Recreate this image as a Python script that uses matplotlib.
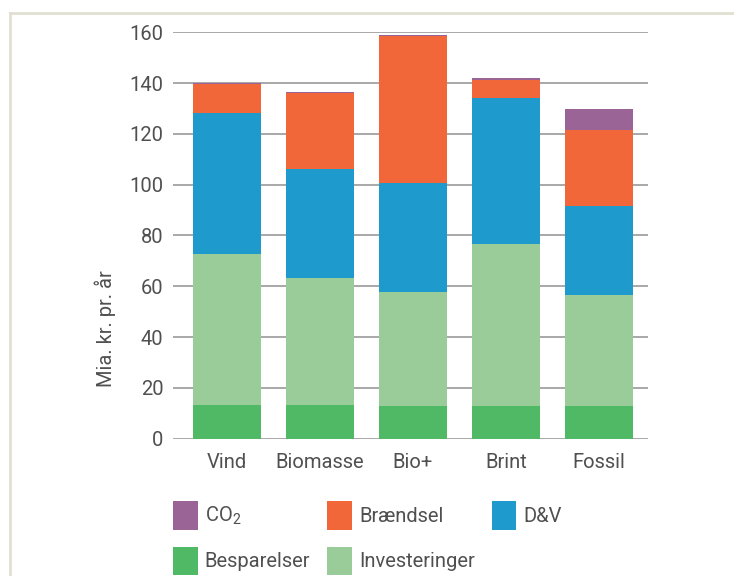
import numpy as np
import matplotlib.pyplot as plt
from matplotlib.patches import Patch
from matplotlib.lines import Line2D

plt.rcParams['font.family'] = ['Roboto', 'DejaVu Sans']
plt.rcParams['mathtext.fontset'] = 'custom'
plt.rcParams['mathtext.rm'] = 'Roboto'

# Data (mia. kr. pr. år)
categories = ['Vind', 'Biomasse', 'Bio+', 'Brint', 'Fossil']
besparelser = [13.4, 13.1, 12.8, 12.8, 12.8]
investeringer = [59.4, 50.3, 45.0, 64.0, 43.8]
dv = [55.3, 42.9, 42.7, 57.5, 35.1]
braendsel = [11.7, 29.7, 58.0, 7.0, 29.9]
co2 = [0.3, 0.4, 0.6, 0.8, 8.3]

series = [
    ('Besparelser', besparelser, '#4fb966'),
    ('Investeringer', investeringer, '#99cc99'),
    ('D&V', dv, '#1f9acd'),
    ('Brændsel', braendsel, '#f26739'),
    (r'CO$_\mathregular{2}$', co2, '#9b6496'),
]

text_col = '#505050'
fs = 14.5
fig = plt.figure(figsize=(7.34, 5.76), dpi=100)
ax = fig.add_axes([173 / 734, 1 - 438.7 / 576, 475 / 734, 406.4 / 576])

x = np.arange(len(categories))
bottom = np.zeros(len(categories))
handles = {}
for name, vals, col in series:
    ax.bar(x, vals, 0.73, bottom=bottom, color=col, zorder=3)
    bottom += np.array(vals)
    handles[name] = Patch(facecolor=col)

ax.set_xlim(-0.58, 4.53)
ax.set_ylim(0, 160)
ax.set_yticks(range(0, 161, 20))
ax.set_xticks(x)
ax.set_xticklabels(categories)
ax.grid(axis='y', color='#9a9a9a', linewidth=1.2, zorder=0)
for s in ax.spines.values():
    s.set_visible(False)
ax.tick_params(length=0, labelsize=fs, labelcolor=text_col)
ax.tick_params(axis='x', pad=10)
ax.tick_params(axis='y', pad=7)
ax.set_ylabel('Mia. kr. pr. år', fontsize=fs, color=text_col)
ax.yaxis.set_label_coords(-0.12, 0.271)

# legend order: row1 CO2, Brændsel, D&V; row2 Besparelser, Investeringer
order = [r'CO$_\mathregular{2}$', 'Besparelser', 'Brændsel', 'Investeringer', 'D&V']
fig.legend([handles[k] for k in order], order, ncol=3, loc='upper left',
           bbox_to_anchor=(167 / 734, 1 - 495 / 576), frameon=False,
           fontsize=fs, labelcolor=text_col, handlelength=1.22,
           handleheight=1.8, handletextpad=0.35, columnspacing=0.85,
           labelspacing=0.85, borderaxespad=0, borderpad=0.3)

# light frame at top and left
frame = '#e2dfd2'
fig.add_artist(Line2D([10 / 734, 1], [1 - 13 / 576] * 2, color=frame, lw=2))
fig.add_artist(Line2D([10 / 734] * 2, [0, 1 - 13 / 576], color=frame, lw=2))

fig.savefig('out.png', dpi=100)
